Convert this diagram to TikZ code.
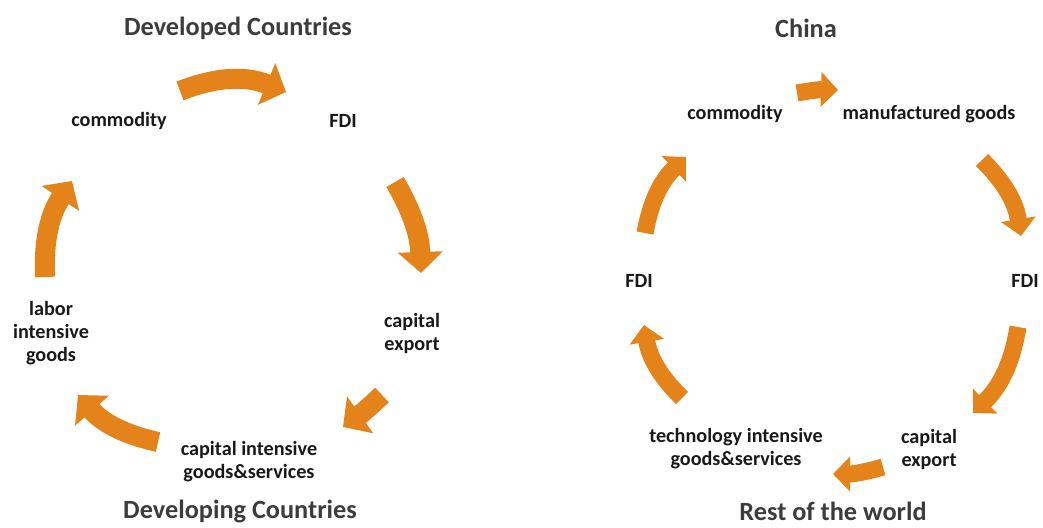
\documentclass[tikz,border=0pt]{standalone}
\usepackage{fontspec}
\setmainfont{Carlito}
\usetikzlibrary{arrows.meta}

\definecolor{flowOrange}{RGB}{229,131,27}
\definecolor{titleGray}{RGB}{60,60,60}

\tikzset{
	title/.style={font=\fontsize{26.3}{30}\selectfont\bfseries, text=titleGray, inner sep=0pt},
	flowtext/.style={font=\fontsize{20.2}{23}\selectfont\bfseries, text=black!90, align=center, inner sep=0pt},
	bigflow/.style={line width=20pt, draw=flowOrange, -{Triangle[length=21pt, width=44pt]}},
	smallflow/.style={line width=17pt, draw=flowOrange, -{Triangle[length=17pt, width=34pt]}},
}

\begin{document}
\begin{tikzpicture}[x=1pt, y=-1pt]
	\useasboundingbox (0,0) rectangle (1043,527);

	% left cycle
	\node[title] (developed) at (238,28) {Developed Countries};
	\node[title] (developing) at (240,511) {Developing Countries};
	\node[flowtext] (lcommodity) at (119,121) {commodity};
	\node[flowtext] (lfdi) at (343,121) {FDI};
	\node[flowtext] (lexport) at (412,333) {capital\\export};
	\node[flowtext] (lcapgoods) at (249,462) {capital intensive\\goods\&services};
	\node[flowtext] (llabor) at (51,333) {labor\\intensive\\goods};

	\coordinate (l1s) at (180,91);  \coordinate (l1e) at (286,92);
	\coordinate (l2s) at (395,182); \coordinate (l2e) at (421,273);
	\coordinate (l3s) at (382,395); \coordinate (l3e) at (343,427);
	\coordinate (l4s) at (158,442); \coordinate (l4e) at (78,395);
	\coordinate (l5s) at (45,277);  \coordinate (l5e) at (72,181);

	\draw[bigflow] (l1s) to[bend left=22] (l1e);
	\draw[bigflow] (l2s) to[bend left=14] (l2e);
	\draw[bigflow] (l3s) to[bend left=4] (l3e);
	\draw[bigflow] (l4s) to[bend left=18] (l4e);
	\draw[bigflow] (l5s) to[bend left=18] (l5e);

	% right cycle
	\node[title] (china) at (806,28) {China};
	\node[title] (rest) at (833,511) {Rest of the world};
	\node[flowtext] (rcommodity) at (735,114) {commodity};
	\node[flowtext] (rmanuf) at (929,114) {manufactured goods};
	\node[flowtext] (rfdileft) at (639,281) {FDI};
	\node[flowtext] (rfdiright) at (1025,281) {FDI};
	\node[flowtext] (rexport) at (929,449) {capital\\export};
	\node[flowtext] (rtechgoods) at (736,449) {technology intensive\\goods\&services};

	\coordinate (r1s) at (797,93);  \coordinate (r1e) at (838,90);
	\coordinate (r2s) at (982,160); \coordinate (r2e) at (1021,236);
	\coordinate (r3s) at (1018,327); \coordinate (r3e) at (973,413);
	\coordinate (r4s) at (883,467); \coordinate (r4e) at (833,474);
	\coordinate (r5s) at (682,398); \coordinate (r5e) at (644,325);
	\coordinate (r6s) at (645,233); \coordinate (r6e) at (686,157);

	\draw[smallflow] (r1s) to[bend left=6] (r1e);
	\draw[smallflow] (r2s) to[bend left=18] (r2e);
	\draw[smallflow] (r3s) to[bend left=18] (r3e);
	\draw[smallflow] (r4s) to[bend left=8] (r4e);
	\draw[smallflow] (r5s) to[bend left=18] (r5e);
	\draw[smallflow] (r6s) to[bend left=18] (r6e);
\end{tikzpicture}
\end{document}
